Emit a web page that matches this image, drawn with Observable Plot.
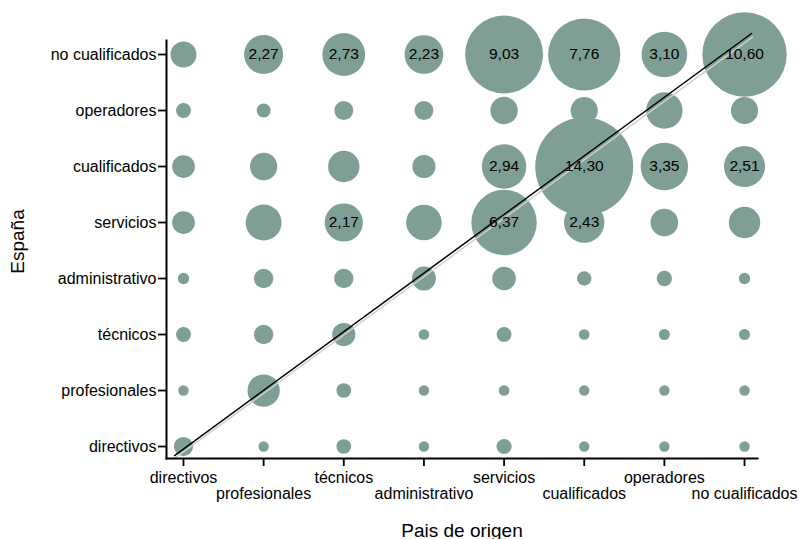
<!DOCTYPE html>
<html>
<head>
<meta charset="utf-8">
<script src="https://cdn.jsdelivr.net/npm/d3@7"></script>
<script src="https://cdn.jsdelivr.net/npm/@observablehq/plot@0.6"></script>
<style>
  html, body { margin: 0; padding: 0; background: #fff; }
  svg { display: block; }
</style>
</head>
<body>
<div id="chart"></div>
<script>
// Categories (same for both axes)
const categorias = ["directivos", "profesionales", "técnicos", "administrativo", "servicios", "cualificados", "operadores", "no cualificados"];

// Values per España category (rows), across País de origen (columns, same order as categorias)
const esp_directivos      = [0.55, 0.16, 0.32, 0.16, 0.34, 0.16, 0.16, 0.16];
const esp_profesionales   = [0.16, 1.55, 0.32, 0.16, 0.17, 0.16, 0.16, 0.16];
const esp_tecnicos        = [0.33, 0.56, 0.80, 0.17, 0.33, 0.17, 0.18, 0.18];
const esp_administrativo  = [0.19, 0.56, 0.56, 0.85, 0.83, 0.31, 0.35, 0.19];
const esp_servicios       = [0.77, 1.92, 2.17, 1.88, 6.37, 2.43, 1.14, 1.47];
const esp_cualificados    = [0.77, 1.11, 1.47, 0.80, 2.94, 14.30, 3.35, 2.51];
const esp_operadores      = [0.33, 0.29, 0.53, 0.53, 1.11, 1.10, 1.98, 1.10];
const esp_nocualificados  = [1.00, 2.27, 2.73, 2.23, 9.03, 7.76, 3.10, 10.60];

const filas = [esp_directivos, esp_profesionales, esp_tecnicos, esp_administrativo,
               esp_servicios, esp_cualificados, esp_operadores, esp_nocualificados];

// Fitted line endpoints (category index space)
const lineaX = [-0.112, 7.088];
const lineaY = [-0.161, 7.375];
const sombraX = [-0.125, 7.10];
const sombraY = [-0.225, 7.31];

const data = [];
filas.forEach((fila, j) => fila.forEach((v, i) => data.push({i, j, v})));
const linea = lineaX.map((x, k) => ({x, y: lineaY[k]}));
const sombra = sombraX.map((x, k) => ({x, y: sombraY[k]}));

const idx = d3.range(categorias.length);
const fmt = v => v.toFixed(2).replace(".", ",");
const font = "'Liberation Sans', Arial, Helvetica, sans-serif";

const chart = Plot.plot({
  width: 799,
  height: 539,
  marginLeft: 166,
  marginRight: 42,
  marginTop: 40,
  marginBottom: 81,
  style: {fontFamily: font, fontSize: "16px", color: "#000", background: "#fff"},
  x: {domain: [-0.212, 7.162], label: null},
  y: {domain: [-0.214, 7.25], label: null},
  r: {type: "sqrt", domain: [0, 14.3], range: [0, 49]},
  marks: [
    Plot.dot(data, {x: "i", y: "j", r: "v", fill: "#7f9f95", stroke: "none"}),
    Plot.line(sombra, {x: "x", y: "y", stroke: "#cfcfcf", strokeWidth: 1.5}),
    Plot.line(linea, {x: "x", y: "y", stroke: "#000", strokeWidth: 1.5}),
    Plot.text(data.filter(d => d.v > 2), {x: "i", y: "j", text: d => fmt(d.v), fill: "#000", fontSize: 15.5}),
    Plot.frame({anchor: "left", stroke: "#000", strokeWidth: 2}),
    Plot.frame({anchor: "bottom", stroke: "#000", strokeWidth: 2}),
    Plot.axisY({ticks: idx, tickFormat: i => categorias[i], tickSize: 8, tickPadding: 2, strokeWidth: 1.8, fontSize: 16,
      label: "España", labelAnchor: "center", labelOffset: 156, labelArrow: "none"}),
    Plot.axisX({ticks: idx.filter(i => i % 2 === 0), tickFormat: i => categorias[i], tickSize: 8, tickPadding: 5, strokeWidth: 1.8, fontSize: 16, label: null}),
    Plot.axisX({ticks: idx.filter(i => i % 2 === 1), tickFormat: i => categorias[i], tickSize: 8, tickPadding: 21, strokeWidth: 1.8, fontSize: 16,
      label: "Pais de origen", labelAnchor: "center", labelOffset: 78, labelArrow: "none"})
  ]
});

// enlarge axis titles
chart.querySelectorAll("g[aria-label='y-axis label'] text, g[aria-label='x-axis label'] text").forEach(t => t.setAttribute("font-size", "19"));
chart.querySelectorAll("g[aria-label='y-axis label']").forEach(g => {
  const tr = g.getAttribute("transform") || "";
  g.setAttribute("transform", tr + " translate(0,-8)");
});
document.getElementById("chart").appendChild(chart);
</script>
</body>
</html>
